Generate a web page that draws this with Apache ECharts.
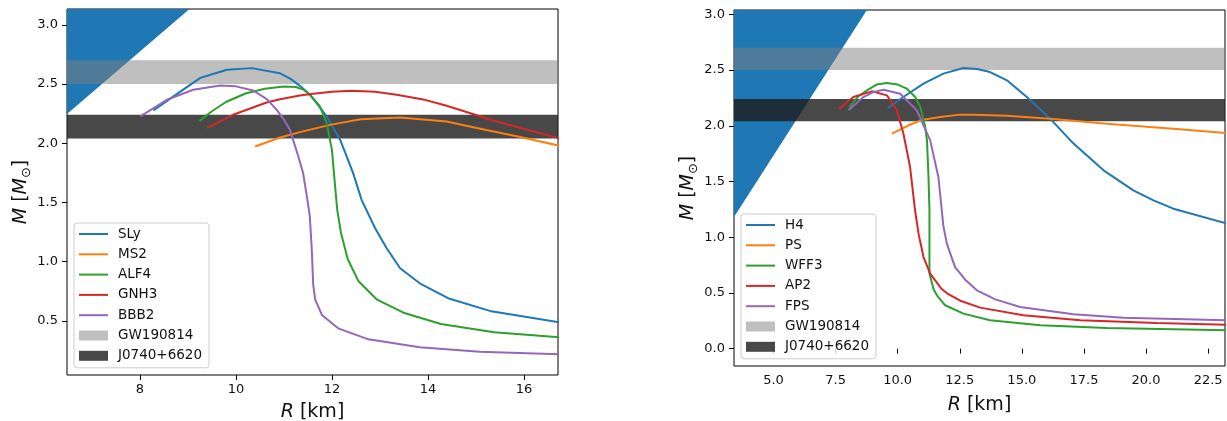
<!DOCTYPE html>
<html>
<head>
<meta charset="utf-8">
<script src="https://cdn.jsdelivr.net/npm/echarts@6/dist/echarts.min.js"></script>
<style>
html,body{margin:0;padding:0;background:#fff;}
#c{width:1227px;height:421px;}
</style>
</head>
<body>
<div id="c"></div>
<script>
// ---------- data (R [km], M [Msun]) ----------
const leftNames = ['SLy', 'MS2', 'ALF4', 'GNH3', 'BBB2'];
const rightNames = ['H4', 'PS', 'WFF3', 'AP2', 'FPS'];
const colors = ['#1f77b4', '#ff7f0e', '#2ca02c', '#d62728', '#9467bd'];

const sly = [[8.28,2.276],[8.69,2.394],[9.25,2.55],[9.81,2.62],[10.33,2.634],[10.92,2.59],[11.13,2.545],[11.35,2.48],[11.54,2.41],[11.72,2.32],[11.89,2.225],[12.17,2.03],[12.44,1.75],[12.62,1.52],[12.90,1.283],[13.14,1.114],[13.42,0.945],[13.83,0.818],[14.42,0.692],[15.29,0.585],[16.75,0.487]];
const ms2 = [[10.40,1.972],[10.92,2.048],[11.33,2.094],[11.96,2.155],[12.6,2.203],[13.42,2.217],[14.39,2.183],[15.04,2.127],[15.875,2.057],[16.75,1.978]];
const alf4 = [[9.24,2.189],[9.5,2.27],[9.8,2.35],[10.2,2.42],[10.6,2.46],[11.0,2.478],[11.25,2.475],[11.42,2.45],[11.54,2.41],[11.75,2.31],[11.89,2.17],[12.0,1.944],[12.06,1.663],[12.11,1.44],[12.19,1.24],[12.33,1.021],[12.55,0.838],[12.93,0.683],[13.49,0.570],[14.27,0.475],[15.38,0.405],[16.75,0.361]];
const gnh3 = [[9.40,2.127],[9.94,2.24],[10.64,2.344],[10.92,2.372],[11.33,2.403],[11.61,2.417],[12.0,2.435],[12.41,2.443],[12.9,2.435],[13.35,2.409],[13.9,2.37],[14.39,2.316],[15.43,2.183],[16.75,2.040]];
const bbb2 = [[8.01,2.226],[8.56,2.367],[9.11,2.451],[9.67,2.487],[10.0,2.48],[10.36,2.445],[10.65,2.37],[10.85,2.282],[11.0,2.2],[11.125,2.113],[11.30,1.888],[11.40,1.747],[11.49,1.52],[11.54,1.38],[11.58,1.10],[11.61,0.804],[11.65,0.683],[11.79,0.551],[12.13,0.438],[12.76,0.345],[13.83,0.278],[15.08,0.241],[16.75,0.219]];

const h4 = [[9.605,2.159],[10.23,2.258],[11.04,2.378],[11.84,2.468],[12.65,2.518],[13.2,2.51],[13.72,2.482],[14.40,2.408],[15.20,2.258],[16.14,2.064],[17.08,1.84],[18.29,1.60],[19.49,1.42],[20.30,1.331],[21.10,1.256],[23.25,1.123]];
const ps = [[9.77,1.929],[10.4,2.0],[10.91,2.049],[11.71,2.078],[12.52,2.10],[13.05,2.10],[14.40,2.091],[16.14,2.064],[18.42,2.019],[21.10,1.974],[23.25,1.934]];
const wff3 = [[8.05,2.168],[8.4,2.26],[8.76,2.318],[9.15,2.37],[9.565,2.384],[10.0,2.37],[10.37,2.333],[10.7,2.26],[10.91,2.168],[11.1,2.0],[11.18,1.869],[11.24,1.55],[11.28,1.241],[11.28,0.673],[11.45,0.53],[11.58,0.478],[11.91,0.389],[12.65,0.314],[13.72,0.254],[15.74,0.209],[18.42,0.185],[23.25,0.164]];
const ap2 = [[7.645,2.154],[8.22,2.258],[8.96,2.309],[9.565,2.273],[9.97,2.139],[10.23,1.93],[10.50,1.63],[10.70,1.241],[10.84,1.032],[11.04,0.822],[11.31,0.673],[11.75,0.54],[12.0,0.494],[12.52,0.43],[13.32,0.368],[15.06,0.299],[17.35,0.254],[20.43,0.230],[23.25,0.215]];
const fps = [[8.02,2.139],[8.62,2.258],[9.0,2.30],[9.43,2.324],[10.10,2.288],[10.77,2.139],[11.31,1.869],[11.64,1.54],[11.75,1.30],[11.84,1.1],[11.98,0.942],[12.31,0.732],[12.72,0.619],[13.19,0.523],[13.93,0.442],[14.93,0.373],[17.08,0.308],[19.09,0.278],[23.25,0.254]];

const leftCurves = [sly, ms2, alf4, gnh3, bbb2];
const rightCurves = [h4, ps, wff3, ap2, fps];

// observational bands [M_low, M_high]
const bandNames = ['GW190814', 'J0740+6620'];
const gwBand = [2.50, 2.70];
const j0740Band = [2.04, 2.24];
// causality boundary (two points of the straight edge of the blue region)
const causalEdge = [[3.0, 1.04], [9.6, 3.33]];

// tick labels
const leftXTicks = [8, 10, 12, 14, 16];
const leftYTicks = [0.5, 1.0, 1.5, 2.0, 2.5, 3.0];
const rightXTicks = [5, 7.5, 10, 12.5, 15, 17.5, 20, 22.5];
const rightYTicks = [0.0, 0.5, 1.0, 1.5, 2.0, 2.5, 3.0];

// ---------- chart ----------
const FONT = 'DejaVu Sans';
const TXT = '#111';
const bandColors = ['rgba(128,128,128,0.5)', 'rgba(30,30,30,0.81)'];
const LINE_ICON = 'path://M0,0 M0,10 M0,4 L29,4 L29,6 L0,6 Z';

function xAxisCfg(idx, min, max, ticks, fmt, gap) {
  return {
    type: 'value', gridIndex: idx, min: min, max: max,
    splitLine: { show: false },
    axisLine: { show: false },
    axisTick: { show: true, inside: false, length: 5, customValues: ticks, lineStyle: { color: '#000', width: 1 } },
    axisLabel: { customValues: ticks, formatter: fmt, margin: 8, fontSize: 13, fontFamily: FONT, color: TXT },
    name: '{i|R} [km]', nameLocation: 'middle', nameGap: gap,
    nameTextStyle: { fontSize: 19, fontFamily: FONT, color: TXT, rich: { i: { fontStyle: 'italic', fontSize: 19, fontFamily: FONT, color: TXT } } }
  };
}
function yAxisCfg(idx, min, max, ticks, gap) {
  return {
    type: 'value', gridIndex: idx, min: min, max: max,
    splitLine: { show: false },
    axisLine: { show: false },
    axisTick: { show: true, inside: false, length: 5, customValues: ticks, lineStyle: { color: '#000', width: 1 } },
    axisLabel: { customValues: ticks, formatter: v => v.toFixed(1), margin: 9, fontSize: 13, fontFamily: FONT, color: TXT },
    name: '{i|M} [{i|M}{s|⊙}]', nameLocation: 'middle', nameRotate: 90, nameGap: gap,
    nameTextStyle: { fontSize: 19, fontFamily: FONT, color: TXT, lineHeight: 24,
      rich: { i: { fontStyle: 'italic', fontSize: 19, fontFamily: FONT, color: TXT, lineHeight: 24 },
              s: { fontSize: 13, fontFamily: FONT, color: TXT, verticalAlign: 'bottom', lineHeight: 24 } } }
  };
}

function bandSeries(name, band, color, idx) {
  return {
    type: 'custom', name: name, xAxisIndex: idx, yAxisIndex: idx, z: 2, silent: true, clip: true,
    itemStyle: { color: color },
    data: [band],
    renderItem: function (params, api) {
      const cs = params.coordSys;
      const yTop = api.coord([0, api.value(1)])[1];
      const yBot = api.coord([0, api.value(0)])[1];
      return { type: 'rect', shape: { x: cs.x, y: yTop, width: cs.width, height: yBot - yTop }, style: { fill: color } };
    }
  };
}

function causalSeries(idx) {
  return {
    type: 'line', name: 'causal', xAxisIndex: idx, yAxisIndex: idx, z: 1, silent: true,
    symbol: 'none', data: causalEdge, lineStyle: { width: 0 },
    areaStyle: { origin: 'end', color: '#1f77b4', opacity: 1 }
  };
}

const series = [causalSeries(0), causalSeries(1)];
series.push(bandSeries(bandNames[0], gwBand, bandColors[0], 0));
series.push(bandSeries(bandNames[1], j0740Band, bandColors[1], 0));
series.push(bandSeries(bandNames[0], gwBand, bandColors[0], 1));
series.push(bandSeries(bandNames[1], j0740Band, bandColors[1], 1));
leftCurves.forEach((d, i) => series.push({ type: 'line', name: leftNames[i], xAxisIndex: 0, yAxisIndex: 0, z: 3, symbol: 'none', data: d, color: colors[i], lineStyle: { width: 2, color: colors[i] } }));
rightCurves.forEach((d, i) => series.push({ type: 'line', name: rightNames[i], xAxisIndex: 1, yAxisIndex: 1, z: 3, symbol: 'none', data: d, color: colors[i], lineStyle: { width: 2, color: colors[i] } }));

function legendCfg(names, left, top) {
  const data = names.map((n, i) => ({ name: n, icon: LINE_ICON, itemStyle: { color: colors[i] } }));
  bandNames.forEach((n, i) => data.push({ name: n, icon: 'rect', itemStyle: { color: bandColors[i] } }));
  return {
    data: data, orient: 'vertical', left: left, top: top,
    itemWidth: 29, itemHeight: 10, itemGap: 6.3,
    padding: [4, 7, 5, 5],
    backgroundColor: 'rgba(255,255,255,0.8)', borderColor: '#cccccc', borderWidth: 1, borderRadius: 3,
    textStyle: { fontSize: 13.5, fontFamily: FONT, color: TXT, lineHeight: 14, padding: [0, 0, 0, 5] },
    selectedMode: false
  };
}

const option = {
  animation: false,
  backgroundColor: '#fff',
  grid: [
    { left: 67, top: 9, width: 491, height: 366, show: true, borderColor: '#000', borderWidth: 1, backgroundColor: 'transparent', outerBoundsMode: 'none', containLabel: false },
    { left: 734, top: 10, width: 491, height: 356, show: true, borderColor: '#000', borderWidth: 1, backgroundColor: 'transparent', outerBoundsMode: 'none', containLabel: false }
  ],
  xAxis: [
    xAxisCfg(0, 6.48, 16.71, leftXTicks, v => String(v), 28),
    xAxisCfg(1, 3.41, 23.18, rightXTicks, v => v.toFixed(1), 30)
  ],
  yAxis: [
    yAxisCfg(0, 0.044, 3.133, leftYTicks, 33),
    yAxisCfg(1, -0.156, 3.039, rightYTicks, 33)
  ],
  legend: [legendCfg(leftNames, 74, 223), legendCfg(rightNames, 741, 214)],
  series: series
};

const chart = echarts.init(document.getElementById('c'), null, { renderer: 'canvas' });
chart.setOption(option);
</script>
</body>
</html>
